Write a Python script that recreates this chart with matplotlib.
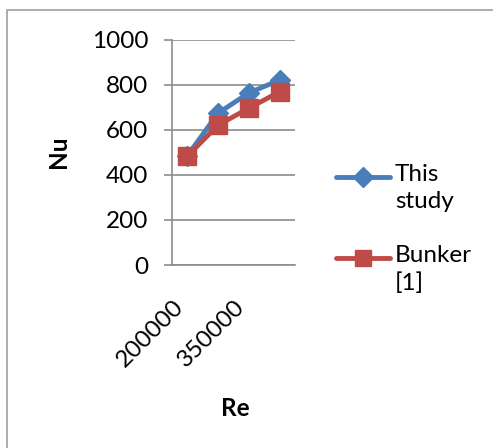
import matplotlib.pyplot as plt
from matplotlib.lines import Line2D
from matplotlib.patches import Rectangle
from matplotlib.transforms import ScaledTranslation

plt.rcParams['font.family'] = ['Lato', 'DejaVu Sans']

re_values = ["200000", "275000", "350000", "425000"]
nu_this_study = [486, 675, 765, 822]
nu_bunker = [484, 622, 697, 770]

blue = "#4A7EBB"
red = "#BE4B48"
grey = "#8C8C8C"
fs = 17.5

fig = plt.figure(figsize=(4.93, 4.48), dpi=100)
ax = fig.add_axes([172/493, 1-265/448, 123/493, 225/448])

x = list(range(len(re_values)))
ax.plot(x, nu_this_study, color=blue, lw=3.5, marker="D", ms=10, mec=blue, mfc=blue,
        solid_joinstyle="round", zorder=3)
ax.plot(x, nu_bunker, color=red, lw=3.5, marker="s", ms=13, mec=red, mfc=red,
        solid_joinstyle="round", zorder=4)

ax.set_xlim(-0.5, 3.5)
ax.set_ylim(0, 1000)
ax.set_yticks(range(0, 1001, 200))
ax.set_xticks(x[::2])
ax.set_xticklabels(re_values[::2], rotation=45, ha="right", va="top", fontsize=fs)
for t in ax.get_xticklabels():
    t.set_transform(t.get_transform() + ScaledTranslation(5/100, 0, fig.dpi_scale_trans))
ax.tick_params(axis="x", length=0, pad=22)
ax.tick_params(axis="y", length=6, width=1.2, color=grey, direction="out", pad=11, labelsize=fs)
ax.grid(axis="y", color=grey, lw=1.2)
ax.set_axisbelow(True)
for s in ["top", "right"]:
    ax.spines[s].set_visible(False)
ax.spines["left"].set_color(grey)
ax.spines["left"].set_linewidth(1.2)
ax.spines["bottom"].set_color(grey)
ax.spines["bottom"].set_linewidth(1.2)

fig.text(58/493, 1-152/448, "Nu", rotation=90, fontsize=fs, fontweight="bold",
         ha="center", va="center")
fig.text(235/493, 1-408/448, "Re", fontsize=fs, fontweight="bold", ha="center", va="center")

# legend
for yy, col, mk, ms, lab in [(177, blue, "D", 10, "This\nstudy"), (258, red, "s", 12, "Bunker\n[1]")]:
    fy = 1 - yy/448
    fig.add_artist(Line2D([336/493, 390/493], [fy, fy], color=col, lw=3.5,
                          solid_capstyle="round", transform=fig.transFigure))
    fig.add_artist(Line2D([363/493], [fy], color=col, marker=mk, ms=ms,
                          transform=fig.transFigure))
    fig.text(395/493, 1-(yy-13)/448, lab, fontsize=fs, ha="left", va="top", linespacing=1.35)

fig.add_artist(Rectangle((7/493, -0.5), 2, 0.5 + 1 - 10/448, fill=False, ec="#A0A0A0",
                         lw=1.2, transform=fig.transFigure))

fig.savefig("out.png", dpi=100)
